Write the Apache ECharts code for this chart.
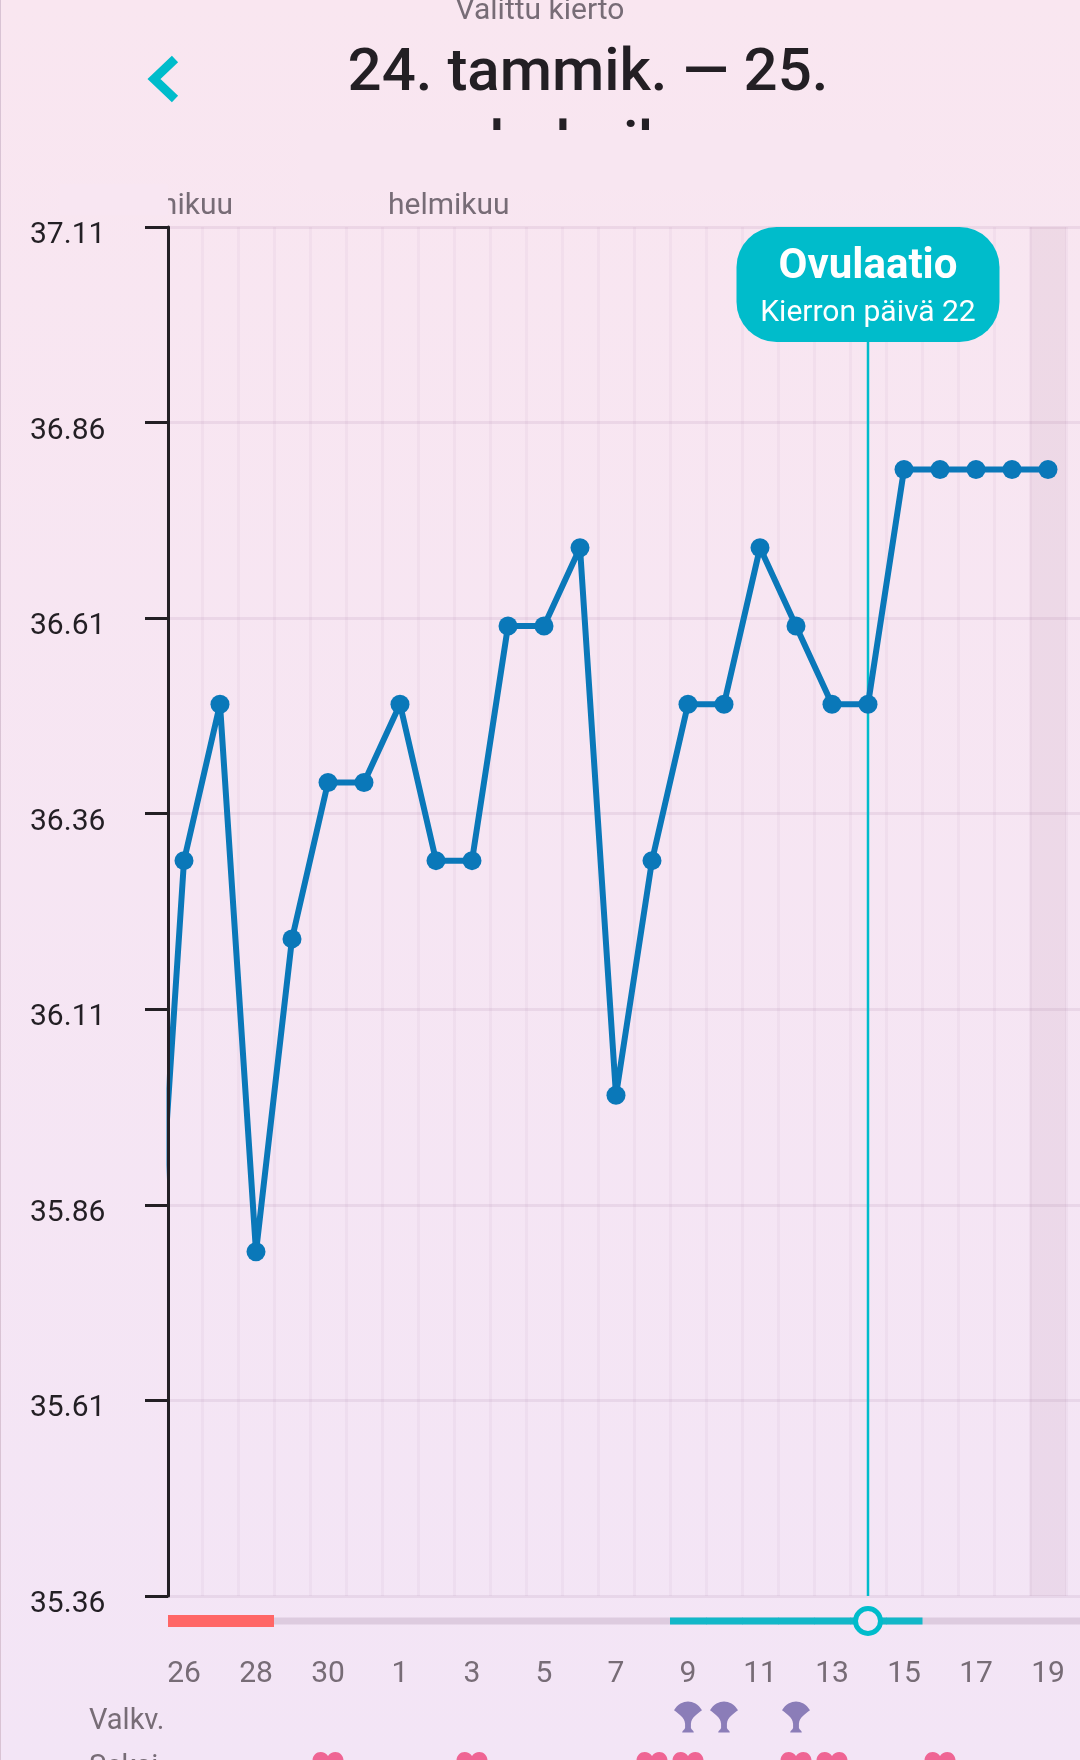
<!DOCTYPE html>
<html><head><meta charset="utf-8">
<style>html,body{margin:0;padding:0;background:#f6e6f3}#c{width:1080px;height:1760px}</style>
<script src="https://cdn.jsdelivr.net/npm/echarts@6/dist/echarts.min.js"></script>
</head><body><div id="c"></div>
<script>
const days = ['25','26','27','28','29','30','31','1','2','3','4','5','6','7','8','9','10','11','12','13','14','15','16','17','18','19','20'];
const temps = [35.6,36.3,36.5,35.8,36.2,36.4,36.4,36.5,36.3,36.3,36.6,36.6,36.7,36.0,36.3,36.5,36.5,36.7,36.6,36.5,36.5,36.8,36.8,36.8,36.8,36.8,null];
const yTicks = [35.36,35.61,35.86,36.11,36.36,36.61,36.86,37.11];
const periodDays = ['26','27','28'];
const fertileDays = ['9','10','11','12','13','14','15'];
const ovulationDay = '14';
const shadedDays = ['19'];
const mucusDays = ['9','10','12'];
const sexDays = ['30','3','8','9','12','13','16'];
const rows = ['Valkv.','Seksi'];
const months = ['tammikuu','helmikuu'];

const TEAL='#00BCCB', GREY='#776C76', AXISX=168;
const heart='path://M12 21C5 15.5 0 11.5 0 6.5 0 2.8 2.8 0 6.3 0 8.5 0 10.7 1.1 12 3 13.3 1.1 15.5 0 17.7 0 21.2 0 24 2.8 24 6.5 24 11.5 19 15.5 12 21Z';
const spore='path://M0 10C3 3 8 0 12 0 16 0 21 3 24 10 20 14 15 18 14.5 25L14.5 30C15 32 17 33 17 35L7 35C7 33 9 32 9.5 30L9.5 25C9 18 4 14 0 10Z';
const ft='Roboto, sans-serif';
const baseX={type:'category',data:days,min:1,boundaryGap:true,
  axisLine:{show:false},axisTick:{show:false},axisLabel:{show:false},splitLine:{show:false}};
const chart=echarts.init(document.getElementById('c'),null,{renderer:'canvas',width:1080,height:1760});

function band(day,api){const i=days.indexOf(day);const x=api.coord([i,0])[0];const w=api.size([1,0])[0];return [x-w/2,w];}

chart.setOption({
  animation:false,
  backgroundColor:new echarts.graphic.LinearGradient(0,0,0,1,[{offset:0,color:'#F9E6F0'},{offset:1,color:'#F3E5F6'}]),
  grid:[
    {left:166,top:227,width:936,height:1369,outerBoundsMode:'none'},
    {left:166,top:1600,width:936,height:42,outerBoundsMode:'none'},
    {left:166,top:1694,width:936,height:92,outerBoundsMode:'none'}
  ],
  xAxis:[
    Object.assign({},baseX,{gridIndex:0,splitLine:{show:true,interval:0,lineStyle:{color:'rgba(170,130,165,0.07)',width:3}}}),
    Object.assign({},baseX,{gridIndex:1,axisLabel:{show:true,interval:(i)=>(i-1)%2===0,color:GREY,fontFamily:ft,fontSize:30,margin:17}}),
    Object.assign({},baseX,{gridIndex:2})
  ],
  yAxis:[
    {type:'value',gridIndex:0,min:35.36,max:37.11,offset:-2,z:10,
     axisLine:{show:true,lineStyle:{color:'#231F24',width:3}},
     axisTick:{show:true,length:23,customValues:yTicks,lineStyle:{color:'#231F24',width:3}},
     axisLabel:{show:true,customValues:yTicks,formatter:v=>v.toFixed(2),align:'left',margin:138,color:'#231F24',fontFamily:ft,fontSize:30,verticalAlign:'top',lineHeight:17},
     splitLine:{show:false}},
    {type:'value',gridIndex:1,min:0,max:1,show:false},
    {type:'category',gridIndex:2,data:rows,inverse:true,axisLine:{show:false},axisTick:{show:false},splitLine:{show:false},
     axisLabel:{align:'left',margin:77,color:GREY,fontFamily:ft,fontSize:29,verticalAlign:'top',lineHeight:10}},
    {type:'value',gridIndex:0,min:35.36,max:37.11,z:0,
     axisLine:{show:false},axisTick:{show:false,customValues:yTicks},axisLabel:{show:false,customValues:yTicks},
     splitLine:{show:true,lineStyle:{color:'rgba(170,130,165,0.15)',width:3}}}
  ],
  series:[
    {type:'custom',name:'shade',xAxisIndex:0,yAxisIndex:0,z:1,data:shadedDays.map(d=>[d]),encode:{x:0},
     renderItem:(p,api)=>{const [x,w]=band(shadedDays[p.dataIndex],api);const c=p.coordSys;
       return {type:'rect',shape:{x,y:c.y,width:w,height:c.height},style:{fill:'rgba(160,120,150,0.11)'}};}},
    {type:'custom',name:'ovulation',xAxisIndex:0,yAxisIndex:0,z:5,data:[[ovulationDay]],encode:{x:0},
     renderItem:(p,api)=>{const x=api.coord([days.indexOf(ovulationDay),0])[0];const c=p.coordSys;
       return {type:'group',children:[
         {type:'line',shape:{x1:x,y1:c.y,x2:x,y2:c.y+c.height},style:{stroke:TEAL,lineWidth:2.5}},
         {type:'rect',shape:{x:x-131.5,y:c.y,width:263,height:115,r:40},style:{fill:TEAL}},
         {type:'text',x:x,y:c.y+40,style:{text:'Ovulaatio',fill:'#fff',font:'700 42px Roboto',textAlign:'center',textVerticalAlign:'middle'}},
         {type:'text',x:x,y:c.y+86,style:{text:'Kierron päivä 22',fill:'#fff',font:'400 30px Roboto',textAlign:'center',textVerticalAlign:'middle'}}
       ]};}},
    {type:'line',name:'temp',xAxisIndex:0,yAxisIndex:0,z:6,data:temps,symbol:'circle',symbolSize:19,showSymbol:true,showAllSymbol:true,connectNulls:false,
     lineStyle:{color:'#0A78B9',width:6},itemStyle:{color:'#0A78B9'},clip:true},
    {type:'custom',name:'edge',xAxisIndex:0,yAxisIndex:0,z:7,data:[[days[1]]],encode:{x:0},
     renderItem:(p,api)=>{const c=p.coordSys;
       return {type:'rect',shape:{x:c.x-8,y:c.y,width:8.5,height:c.height},
         style:{fill:new echarts.graphic.LinearGradient(0,0,0,1,[{offset:0,color:'#F8E6F1'},{offset:1,color:'#F4E5F5'}])}};}},
    {type:'custom',name:'track',xAxisIndex:1,yAxisIndex:1,z:2,data:days.slice(1).map(d=>[d]),encode:{x:0},
     renderItem:(p,api)=>{const [x,w]=band(days[p.dataIndex+1],api);const l=Math.max(x,AXISX);const cy=p.coordSys.y+p.coordSys.height/2;
       return {type:'rect',shape:{x:l,y:cy-3.5,width:x+w-l,height:7},style:{fill:'#DDCBDF'}};}},
    {type:'custom',name:'period',xAxisIndex:1,yAxisIndex:1,z:3,data:periodDays.map(d=>[d]),encode:{x:0},
     renderItem:(p,api)=>{const [x,w]=band(periodDays[p.dataIndex],api);const l=Math.max(x,AXISX);const cy=p.coordSys.y+p.coordSys.height/2;
       return {type:'rect',shape:{x:l,y:cy-6,width:x+w-l,height:12},style:{fill:'#FF6666'}};}},
    {type:'custom',name:'fertile',xAxisIndex:1,yAxisIndex:1,z:3,data:fertileDays.map(d=>[d]),encode:{x:0},
     renderItem:(p,api)=>{const [x,w]=band(fertileDays[p.dataIndex],api);const cy=p.coordSys.y+p.coordSys.height/2;
       return {type:'rect',shape:{x:x,y:cy-3.5,width:w+0.5,height:7},style:{fill:'#12B7C8'}};}},
    {type:'custom',name:'ovuMark',xAxisIndex:1,yAxisIndex:1,z:4,data:[[ovulationDay]],encode:{x:0},
     renderItem:(p,api)=>{const x=api.coord([days.indexOf(ovulationDay),0])[0];const cy=p.coordSys.y+p.coordSys.height/2;
       return {type:'circle',shape:{cx:x,cy:cy,r:12.5},style:{fill:'#F4E5F5',stroke:TEAL,lineWidth:5}};}},
    {type:'scatter',name:'mucus',xAxisIndex:2,yAxisIndex:2,z:4,symbol:spore,symbolSize:[28,31],
     itemStyle:{color:'#8B7DB8',opacity:1},data:mucusDays.map(d=>[d,rows[0]])},
    {type:'scatter',name:'sex',xAxisIndex:2,yAxisIndex:2,z:4,symbol:heart,symbolSize:[31,28],symbolOffset:[0,3],
     itemStyle:{color:'#EF6594',opacity:1},data:sexDays.map(d=>[d,rows[1]])}
  ],
  graphic:[
    {type:'rect',z:20,shape:{x:0,y:0,width:1,height:1760},style:{fill:'#D9C3D4'}},
    {type:'text',z:20,x:540,y:26,style:{text:'Valittu kierto',font:'400 30px Roboto',fill:GREY,textAlign:'center',textVerticalAlign:'bottom'}},
    {type:'polyline',z:20,shape:{points:[[175,59],[154,79],[175,99]]},style:{stroke:TEAL,lineWidth:9,fill:null}},
    {type:'text',z:20,x:588,y:105,style:{text:'24. tammik. — 25.',font:'500 60px Roboto',fill:'#231F24',textAlign:'center',textVerticalAlign:'bottom'}},
    {type:'text',z:20,x:588,y:178,style:{text:'helmik.',font:'500 60px Roboto',fill:'#231F24',textAlign:'center',textVerticalAlign:'bottom'}},
    {type:'rect',z:21,shape:{x:300,y:130,width:600,height:60},style:{fill:'#F8E6F1'}},
    {type:'text',z:20,x:233,y:206,style:{text:months[0],font:'400 30px Roboto',fill:GREY,textAlign:'right',textVerticalAlign:'middle'}},
    {type:'rect',z:21,shape:{x:60,y:184,width:108,height:31},style:{fill:'#F8E6F2'}},
    {type:'text',z:20,x:388,y:206,style:{text:months[1],font:'400 30px Roboto',fill:GREY,textAlign:'left',textVerticalAlign:'middle'}}
  ]
});
</script></body></html>
